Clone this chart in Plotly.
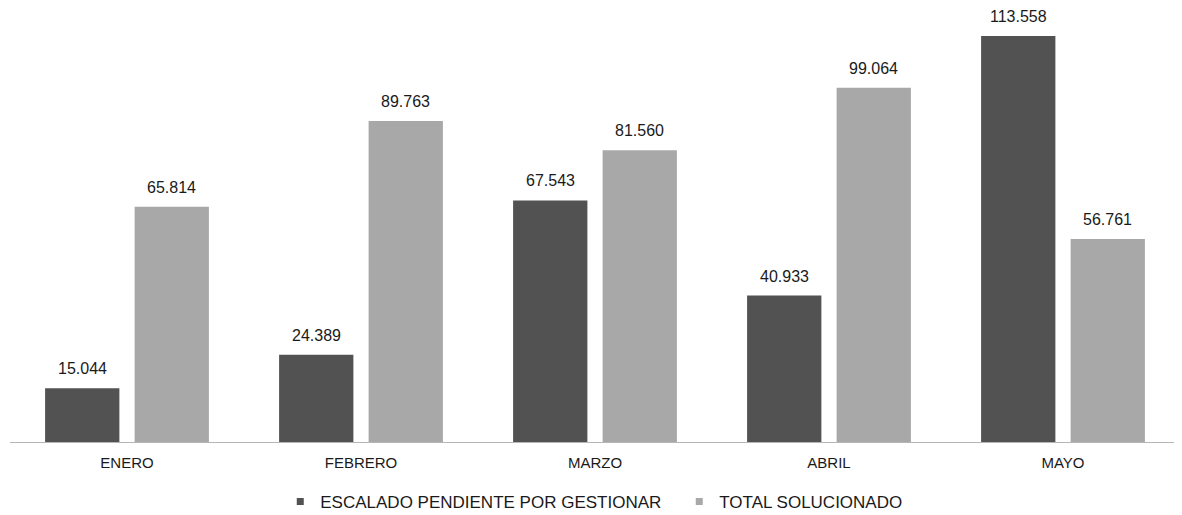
import plotly.graph_objects as go

categories = ["ENERO", "FEBRERO", "MARZO", "ABRIL", "MAYO"]
escalado = [15044, 24389, 67543, 40933, 113558]
solucionado = [65814, 89763, 81560, 99064, 56761]
series_names = ["ESCALADO PENDIENTE POR GESTIONAR", "TOTAL SOLUCIONADO"]
colors = ["#525252", "#a8a8a8"]


def fmt(v):
    return f"{v:,}".replace(",", ".")


fig = go.Figure()
for name, vals, col in zip(series_names, [escalado, solucionado], colors):
    fig.add_trace(go.Bar(
        x=categories, y=vals, name=name,
        marker=dict(color=col, line=dict(width=0)),
        showlegend=False, hoverinfo="x+y",
    ))
    fig.add_trace(go.Scatter(
        x=[None], y=[None], mode="markers", name=name,
        marker=dict(symbol="square", size=7, color=col),
    ))

# value labels above each bar
slot = 89.5  # px between the two bars of a group
for k, vals in enumerate([escalado, solucionado]):
    shift = (-0.5 if k == 0 else 0.5) * slot
    for cat, v in zip(categories, vals):
        fig.add_annotation(
            x=cat, y=v, text=fmt(v), showarrow=False,
            xshift=shift, yshift=9, yanchor="bottom",
            font=dict(family="Liberation Sans, Arial", size=16, color="#1a1a1a"),
        )

fig.update_layout(
    width=1174, height=507,
    paper_bgcolor="white", plot_bgcolor="white",
    margin=dict(l=2, r=2, t=12, b=73, autoexpand=False),
    barmode="group", bargap=0.235, bargroupgap=0.17,
    font=dict(family="Liberation Sans, Arial", size=15, color="#1a1a1a"),
    xaxis=dict(showline=True, linecolor="#b5b5b5", linewidth=1, ticks="",
               tickfont=dict(size=15), showgrid=False, ticklabelstandoff=7),
    yaxis=dict(range=[0, 118000], visible=False, showgrid=False, zeroline=False),
    legend=dict(orientation="h", x=0.231, xanchor="left", y=-0.142, yanchor="middle",
                font=dict(size=17), itemwidth=30, entrywidth=354,
                bgcolor="rgba(0,0,0,0)"),
)

fig.write_html("out.html")
